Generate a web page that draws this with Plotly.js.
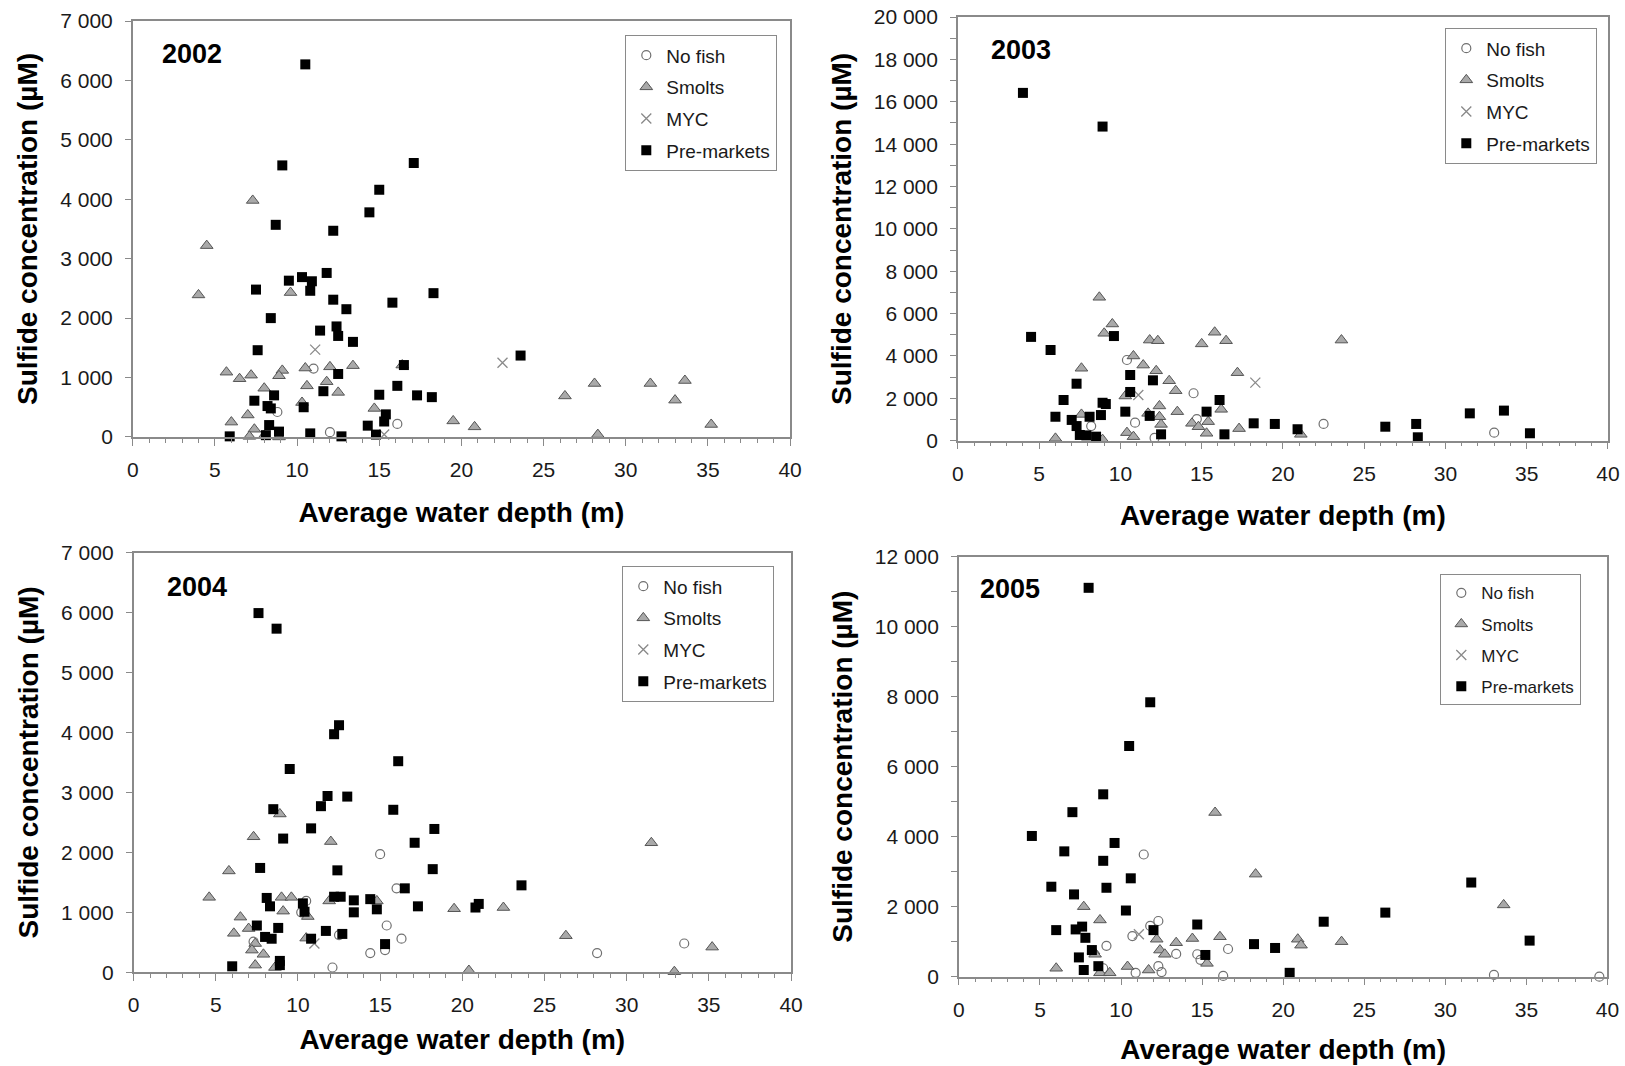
<!DOCTYPE html>
<html>
<head>
<meta charset="utf-8">
<script src="https://cdn.plot.ly/plotly-3.0.1.min.js"></script>
<style>
  html, body { margin: 0; padding: 0; background: #fff; }
  #chart { width: 1625px; height: 1066px; }
</style>
</head>
<body>
<div id="chart"></div>
<script>
// Sulfide concentration vs. average water depth, per year and fish stage

const years = ['2002', '2003', '2004', '2005'];
const groupNames = ['No fish', 'Smolts', 'MYC', 'Pre-markets'];

// ---- 2002 ----
const depth2002NoFish = [11.0, 8.8, 12.0, 16.1];
const sulfide2002NoFish = [1150, 420, 80, 220];
const depth2002Smolts = [7.3, 4.5, 4.0, 9.6, 5.7, 6.5, 7.2, 9.1, 8.9, 10.5, 12.0, 13.4, 16.4, 11.8, 10.6, 12.5, 8.0, 10.3, 14.7, 7.0, 6.0, 7.4, 7.1, 8.0, 8.9, 19.5, 20.8, 26.3, 28.1, 31.5, 33.6, 33.0, 35.2, 28.3];
const sulfide2002Smolts = [3980, 3220, 2390, 2430, 1090, 980, 1040, 1120, 1030, 1160, 1180, 1200, 1210, 930, 860, 750, 820, 580, 480, 370, 250, 130, 10, 20, 0, 270, 170, 690, 900, 900, 950, 620, 210, 40];
const depth2002MYC = [11.1, 15.3, 22.5];
const sulfide2002MYC = [1470, 40, 1250];
const depth2002PreMarkets = [10.5, 9.1, 17.1, 15.0, 14.4, 8.7, 12.2, 11.8, 9.5, 10.3, 10.9, 10.8, 7.5, 18.3, 12.2, 15.8, 13.0, 8.4, 11.4, 12.4, 12.5, 13.4, 7.6, 16.5, 12.5, 16.1, 11.6, 15.0, 17.3, 18.2, 7.4, 8.6, 8.2, 8.4, 10.4, 15.4, 15.3, 14.3, 8.3, 8.9, 8.1, 5.9, 10.8, 12.7, 14.8, 23.6];
const sulfide2002PreMarkets = [6270, 4570, 4610, 4160, 3780, 3570, 3470, 2760, 2630, 2690, 2620, 2460, 2480, 2420, 2310, 2260, 2150, 2000, 1790, 1860, 1700, 1600, 1460, 1210, 1060, 860, 770, 710, 700, 670, 610, 700, 520, 480, 500, 380, 260, 190, 200, 90, 30, 10, 60, 10, 40, 1370];

// ---- 2003 ----
const depth2003NoFish = [10.4, 14.5, 8.2, 10.9, 12.1, 14.7, 22.5, 33.0];
const sulfide2003NoFish = [3810, 2240, 690, 850, 130, 1020, 790, 380];
const depth2003Smolts = [8.7, 9.5, 9.0, 11.8, 12.3, 15.0, 15.8, 16.5, 10.8, 11.4, 7.6, 12.2, 17.2, 13.0, 13.4, 10.3, 12.4, 13.5, 16.2, 11.7, 12.4, 7.6, 14.4, 14.8, 15.4, 12.5, 15.3, 17.3, 10.4, 10.8, 6.0, 8.9, 21.1, 23.6];
const sulfide2003Smolts = [6770, 5510, 5070, 4750, 4720, 4570, 5120, 4720, 4000, 3570, 3420, 3300, 3210, 2830, 2360, 2110, 1640, 1370, 1480, 1290, 1130, 1240, 820, 660, 900, 770, 350, 570, 380, 190, 110, 50, 300, 4750];
const depth2003MYC = [11.1, 18.3];
const sulfide2003MYC = [2160, 2740];
const depth2003PreMarkets = [4.0, 8.9, 4.5, 5.7, 9.6, 10.6, 12.0, 7.3, 10.6, 6.5, 8.9, 9.1, 16.1, 10.3, 15.3, 6.0, 8.8, 8.1, 11.8, 7.0, 7.3, 7.5, 7.9, 8.5, 12.5, 16.4, 18.2, 19.5, 20.9, 26.3, 28.2, 28.3, 31.5, 33.6, 35.2];
const sulfide2003PreMarkets = [16420, 14830, 4900, 4280, 4940, 3100, 2850, 2690, 2300, 1920, 1790, 1730, 1920, 1370, 1370, 1130, 1210, 1130, 1170, 980, 690, 270, 250, 190, 300, 300, 820, 790, 540, 660, 790, 160, 1290, 1420, 350];

// ---- 2004 ----
const depth2004NoFish = [15.0, 16.0, 10.5, 10.2, 15.4, 16.3, 7.3, 12.5, 14.4, 15.3, 12.1, 28.2, 33.5];
const sulfide2004NoFish = [1970, 1400, 1190, 1000, 780, 560, 510, 620, 320, 370, 80, 320, 480];
const depth2004Smolts = [8.9, 7.3, 12.0, 5.8, 4.6, 9.0, 9.6, 11.9, 14.8, 9.1, 10.6, 6.5, 7.0, 6.1, 7.4, 7.2, 7.9, 10.5, 7.4, 8.6, 19.5, 20.4, 22.5, 31.5, 26.3, 35.2, 32.9];
const sulfide2004Smolts = [2640, 2260, 2180, 1690, 1250, 1250, 1250, 1190, 1190, 1020, 930, 920, 730, 650, 480, 370, 300, 570, 120, 80, 1060, 30, 1080, 2160, 610, 420, 10];
const depth2004MYC = [11.0];
const sulfide2004MYC = [480];
const depth2004PreMarkets = [7.6, 8.7, 12.5, 12.2, 16.1, 9.5, 11.8, 13.0, 11.4, 8.5, 15.8, 10.8, 18.3, 9.1, 17.1, 7.7, 12.4, 18.2, 16.5, 8.1, 8.3, 12.2, 12.6, 10.3, 10.4, 13.4, 13.4, 14.4, 14.8, 17.3, 20.8, 21.0, 7.5, 8.8, 8.0, 8.4, 11.7, 12.7, 10.8, 15.3, 8.9, 8.9, 6.0, 23.6];
const sulfide2004PreMarkets = [5990, 5730, 4120, 3970, 3520, 3390, 2940, 2930, 2770, 2720, 2710, 2400, 2390, 2230, 2160, 1740, 1700, 1720, 1400, 1240, 1100, 1260, 1260, 1150, 1010, 1200, 1000, 1220, 1050, 1100, 1080, 1140, 780, 740, 590, 560, 690, 640, 560, 470, 190, 120, 100, 1450];

// ---- 2005 ----
const depth2005NoFish = [11.4, 12.3, 11.8, 10.7, 9.1, 16.6, 13.4, 14.7, 14.9, 12.3, 12.5, 10.9, 8.9, 16.3, 33.0, 39.5];
const sulfide2005NoFish = [3490, 1590, 1450, 1160, 880, 790, 650, 640, 480, 300, 130, 110, 240, 20, 50, 0];
const depth2005Smolts = [15.8, 18.3, 7.7, 8.7, 12.2, 13.4, 14.4, 16.1, 12.4, 12.7, 8.3, 8.4, 15.3, 6.0, 8.7, 9.3, 10.4, 11.7, 20.9, 21.1, 23.6, 33.6];
const sulfide2005Smolts = [4690, 2930, 2000, 1620, 1070, 970, 1090, 1140, 760, 640, 730, 640, 380, 240, 110, 110, 290, 190, 1070, 900, 1000, 2050];
const depth2005MYC = [11.1];
const sulfide2005MYC = [1210];
const depth2005PreMarkets = [8.0, 11.8, 10.5, 8.9, 7.0, 4.5, 9.6, 6.5, 8.9, 10.6, 5.7, 9.1, 7.1, 10.3, 14.7, 6.0, 7.2, 7.6, 12.0, 7.8, 8.2, 7.4, 8.6, 7.7, 15.2, 18.2, 19.5, 20.4, 22.5, 26.3, 31.6, 35.2];
const sulfide2005PreMarkets = [11110, 7840, 6590, 5210, 4700, 4020, 3820, 3580, 3310, 2810, 2570, 2540, 2350, 1890, 1490, 1330, 1350, 1430, 1330, 1110, 760, 550, 300, 190, 620, 930, 820, 110, 1570, 1830, 2690, 1030];

// y-axis upper limits and label steps per year
const yMax = [7000, 20000, 7000, 12000];
const yStep = [1000, 2000, 1000, 2000];

const seriesByYear = [
  [[depth2002NoFish, sulfide2002NoFish], [depth2002Smolts, sulfide2002Smolts], [depth2002MYC, sulfide2002MYC], [depth2002PreMarkets, sulfide2002PreMarkets]],
  [[depth2003NoFish, sulfide2003NoFish], [depth2003Smolts, sulfide2003Smolts], [depth2003MYC, sulfide2003MYC], [depth2003PreMarkets, sulfide2003PreMarkets]],
  [[depth2004NoFish, sulfide2004NoFish], [depth2004Smolts, sulfide2004Smolts], [depth2004MYC, sulfide2004MYC], [depth2004PreMarkets, sulfide2004PreMarkets]],
  [[depth2005NoFish, sulfide2005NoFish], [depth2005Smolts, sulfide2005Smolts], [depth2005MYC, sulfide2005MYC], [depth2005PreMarkets, sulfide2005PreMarkets]]
];

const FONT = 'Liberation Sans, Arial, Helvetica, sans-serif';
const AXIS_GREY = '#8a8a8a';
const INK = '#1a1a1a';

const markerStyles = [
  { symbol: 'circle-open', size: 9, color: '#707070', line: { color: '#707070', width: 1.2 } },
  { symbol: 'triangle-up', size: 11, color: '#a9a9a9', line: { color: '#555555', width: 1 } },
  { symbol: 'x-thin-open', size: 10, color: '#8a8a8a', line: { color: '#8a8a8a', width: 1.3 } },
  { symbol: 'square', size: 10, color: '#000000', line: { color: '#000000', width: 0 } }
];

const axisSuffix = ['', '2', '3', '4'];
const legendIds = ['legend', 'legend2', 'legend3', 'legend4'];

const traces = [];
seriesByYear.forEach((groups, yi) => {
  groups.forEach((pair, gi) => {
    traces.push({
      type: 'scatter',
      mode: 'markers',
      name: groupNames[gi],
      x: pair[0],
      y: pair[1],
      xaxis: 'x' + axisSuffix[yi],
      yaxis: 'y' + axisSuffix[yi],
      legend: legendIds[yi],
      legendgroup: groupNames[gi] + years[yi],
      marker: markerStyles[gi],
      cliponaxis: false,
      hoverinfo: 'x+y+name'
    });
  });
});

// plot-area domains (paper fractions)
const xDomains = [[0.0817, 0.4862], [0.5895, 0.9895], [0.0822, 0.4868], [0.5901, 0.9892]];
const yDomains = [[0.5901, 0.9803], [0.5866, 0.9840], [0.0879, 0.4817], [0.0838, 0.4778]];
// gap between x tick labels and x-axis title, per panel
const xTitleGap = [22, 22, 14, 20];

function xAxis(i) {
  return {
    domain: xDomains[i],
    anchor: 'y' + axisSuffix[i],
    range: [0, 40],
    tick0: 0,
    dtick: 5,
    ticks: 'outside',
    ticklen: 7,
    tickwidth: 1.3,
    tickcolor: AXIS_GREY,
    ticklabelstandoff: 6,
    minor: { dtick: 1, ticks: 'outside', ticklen: 4, tickwidth: 1, tickcolor: AXIS_GREY, showgrid: false },
    showline: true,
    linecolor: AXIS_GREY,
    linewidth: 1.5,
    mirror: true,
    showgrid: false,
    zeroline: false,
    automargin: false,
    fixedrange: true,
    tickfont: { family: FONT, size: 21, color: INK },
    title: {
      text: 'Average water depth (m)',
      font: { family: FONT, size: 28, color: '#000', weight: 700 },
      standoff: xTitleGap[i]
    }
  };
}

function yAxis(i) {
  return {
    domain: yDomains[i],
    anchor: 'x' + axisSuffix[i],
    range: [0, yMax[i]],
    tick0: 0,
    dtick: yStep[i],
    ticks: 'outside',
    ticklen: 6,
    tickwidth: 1.3,
    tickcolor: AXIS_GREY,
    ticklabelstandoff: 8,
    separatethousands: true,
    tickformat: ',d',
    minor: yStep[i] > 1000 ? { dtick: 1000, ticks: 'outside', ticklen: 6, tickwidth: 1.3, tickcolor: AXIS_GREY, showgrid: false } : undefined,
    showline: true,
    linecolor: AXIS_GREY,
    linewidth: 1.5,
    mirror: true,
    showgrid: false,
    zeroline: false,
    automargin: false,
    fixedrange: true,
    tickfont: { family: FONT, size: 21, color: INK },
    title: {
      text: 'Sulfide concentration (µM)',
      font: { family: FONT, size: 28, color: '#000', weight: 700 },
      standoff: 14
    }
  };
}

function legendBox(xRight, yTop, size, gap) {
  return {
    x: xRight, xanchor: 'right',
    y: yTop, yanchor: 'top',
    bgcolor: '#ffffff',
    bordercolor: AXIS_GREY,
    borderwidth: 1.3,
    font: { family: FONT, size: size, color: INK },
    tracegroupgap: gap,
    itemwidth: 30,
    itemclick: false,
    itemdoubleclick: false
  };
}

const layout = {
  width: 1625,
  height: 1066,
  margin: { l: 0, r: 0, t: 0, b: 0 },
  paper_bgcolor: '#ffffff',
  plot_bgcolor: '#ffffff',
  separators: '. ',
  showlegend: true,
  font: { family: FONT, color: INK },
  xaxis: xAxis(0), yaxis: yAxis(0),
  xaxis2: xAxis(1), yaxis2: yAxis(1),
  xaxis3: xAxis(2), yaxis3: yAxis(2),
  xaxis4: xAxis(3), yaxis4: yAxis(3),
  legend: legendBox(777 / 1625, 1 - 35 / 1066, 19, 4),
  legend2: legendBox(1597 / 1625, 1 - 28 / 1066, 19, 4),
  legend3: legendBox(774 / 1625, 1 - 566 / 1066, 19, 4),
  legend4: legendBox(1581 / 1625, 1 - 574 / 1066, 17, 6),
  annotations: [
    { text: '2002', x: 191.7 / 1625, y: 1 - 54 / 1066 },
    { text: '2003', x: 1020.5 / 1625, y: 1 - 50 / 1066 },
    { text: '2004', x: 197 / 1625, y: 1 - 587 / 1066 },
    { text: '2005', x: 1010 / 1625, y: 1 - 589 / 1066 }
  ].map(a => Object.assign(a, {
    xref: 'paper', yref: 'paper', xanchor: 'center', yanchor: 'middle',
    showarrow: false,
    font: { family: FONT, size: 27, color: '#000', weight: 700 }
  }))
};

Plotly.newPlot('chart', traces, layout, { displayModeBar: false, staticPlot: false, responsive: false });
</script>
</body>
</html>
